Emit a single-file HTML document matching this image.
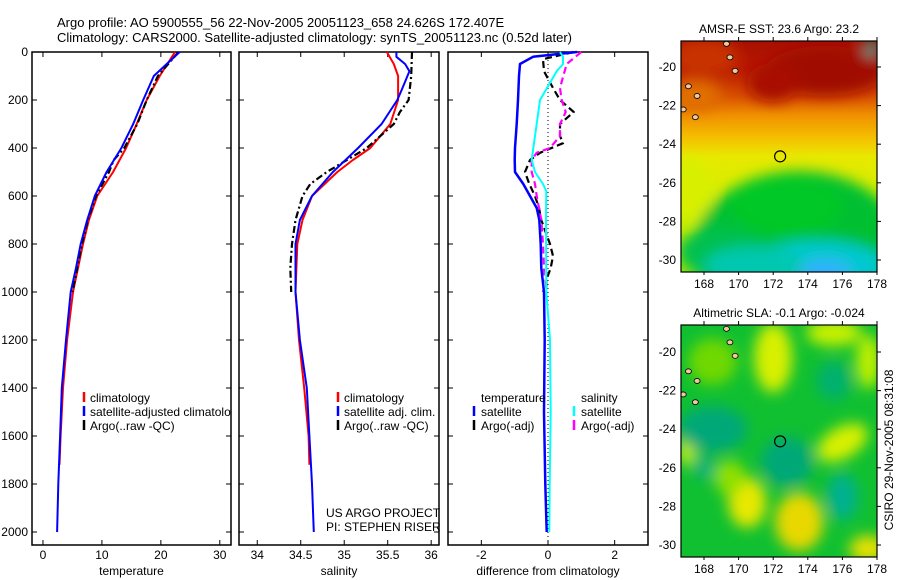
<!DOCTYPE html>
<html><head><meta charset="utf-8"><style>
html,body{margin:0;padding:0;background:#fff;}
svg{display:block;font-family:"Liberation Sans",sans-serif;}
</style></head><body>
<svg id="chart" width="900" height="580" viewBox="0 0 900 580">
<defs>
<filter id="blur" x="-20%" y="-20%" width="140%" height="140%"><feGaussianBlur stdDeviation="7"/></filter>
<clipPath id="m1clip"><rect x="681" y="41" width="196" height="231"/></clipPath>
<clipPath id="m2clip"><rect x="681" y="325" width="196" height="232"/></clipPath>
<clipPath id="p1clip"><rect x="32" y="52" width="199" height="493"/></clipPath>
<linearGradient id="sstg" x1="0" y1="0" x2="0" y2="1">
<stop offset="0" stop-color="#a81000"/><stop offset="0.12" stop-color="#b81800"/>
<stop offset="0.24" stop-color="#d85000"/><stop offset="0.32" stop-color="#f09000"/>
<stop offset="0.42" stop-color="#f5c000"/><stop offset="0.5" stop-color="#e8e800"/>
<stop offset="0.7" stop-color="#d0f000"/><stop offset="1" stop-color="#a0e800"/>
</linearGradient>
</defs>
<text x="57" y="27" font-size="13">Argo profile: AO 5900555_56 22-Nov-2005 20051123_658 24.626S 172.407E</text>
<text x="57" y="42" font-size="13">Climatology: CARS2000. Satellite-adjusted climatology: synTS_20051123.nc (0.52d later)</text>
<g id="plots"></g>
<g id="maps"></g>
<text transform="translate(893,450) rotate(-90)" font-size="12" text-anchor="middle">CSIRO 29-Nov-2005 08:31:08</text>
</svg>
<script>
// ---- data ----
const tempDepthClim = [0,100,200,300,400,500,600,700,800,1000,1200,1400,1600,1720];
const tempClim = [22.4,19.8,17.6,15.9,14.1,11.9,9.2,7.8,6.8,5.1,4.1,3.4,3.0,2.8];
const tempDepthSat = [0,50,100,200,300,400,500,600,700,800,900,1000,1200,1400,1600,1800,2000];
const tempSat = [23.2,21.0,18.8,17.0,15.3,13.3,10.8,8.8,7.5,6.4,5.6,4.7,3.9,3.2,2.9,2.6,2.4];
const tempDepthArgo = [0,100,200,300,400,450,500,600,700,800,1000];
const tempArgo = [23.0,19.5,17.6,16.0,13.8,12.0,11.2,9.0,7.6,6.6,5.0];

const salDepthClim = [0,50,100,200,300,400,450,500,600,700,800,1000,1200,1400,1600,1720];
const salClim = [35.49,35.57,35.62,35.62,35.53,35.30,35.10,34.92,34.63,34.52,34.46,34.44,34.48,34.54,34.59,34.60];
const salDepthSat = [0,20,50,80,150,200,300,400,500,600,700,800,1000,1200,1400,1600,1800,2000];
const salSat = [35.60,35.60,35.70,35.75,35.67,35.61,35.43,35.16,34.87,34.63,34.49,34.44,34.44,34.49,34.57,34.60,34.63,34.65];
const salDepthArgo = [0,100,200,250,300,400,450,500,550,600,700,800,900,1000];
const salArgo = [35.78,35.77,35.74,35.64,35.57,35.26,35.03,34.80,34.61,34.52,34.44,34.40,34.38,34.39];

const dDepthT = [0,20,50,100,200,300,400,450,500,550,600,650,700,800,900,1000,1200,1500,1800,2000];
const dTempSat = [0.87,-0.45,-0.84,-0.87,-0.9,-0.94,-0.99,-1.0,-0.99,-0.74,-0.54,-0.34,-0.26,-0.22,-0.2,-0.12,-0.1,-0.12,-0.08,-0.04];
const dDepthS = [0,20,50,80,150,200,300,400,450,500,550,580,700,1000,1200,1500,1800,2000];
const dSalSat = [0.36,0.45,0.45,0.26,-0.03,-0.24,-0.34,-0.44,-0.49,-0.39,-0.15,-0.05,-0.06,-0.05,0.06,0.08,0.05,0.04];
const dDepthTA = [0,30,80,150,200,250,300,350,380,420,450,500,550,600,650,700,800,850,900,950,1000];
const dTempArgo = [0.76,-0.15,-0.12,0.15,0.36,0.77,0.36,0.36,0.45,-0.24,-0.54,-0.69,-0.56,-0.39,-0.27,-0.2,0.06,0.15,0.08,-0.05,-0.05];
const dDepthSA = [0,50,100,150,200,250,300,350,400,420,450,500,550,600,650,700,800,900,1000];
const dSalArgo = [1.0,0.56,0.46,0.36,0.41,0.53,0.36,0.36,0.06,-0.34,-0.49,-0.49,-0.39,-0.34,-0.27,-0.2,-0.15,-0.12,-0.15];

const depthTicks = [0,200,400,600,800,1000,1200,1400,1600,1800,2000];
const tempTicks = [0,10,20,30];
const salTicks = [34,34.5,35,35.5,36];
const diffTicks = [-2,0,2];
const latTicks = [20,22,24,26,28,30];
const lonTicks = [168,170,172,174,176,178];

// ---- axes ----
const NS='http://www.w3.org/2000/svg';
const TOP=52, BOT=545;
function yDepth(d){return TOP + d*0.24;}
function mkX(x0,x1,v0,v1){return v=>x0+(v-v0)/(v1-v0)*(x1-x0);}
const panels=[
 {name:'temperature',x0:32,x1:231,v0:-1.86,v1:31.9,ticks:tempTicks,label:'temperature'},
 {name:'salinity',x0:239,x1:439,v0:33.79,v1:36.09,ticks:salTicks,label:'salinity'},
 {name:'difference',x0:448,x1:648,v0:-3.0,v1:3.0,ticks:diffTicks,label:'difference from climatology'}
];
const g=document.getElementById('plots');
function el(tag,attrs,parent){const e=document.createElementNS(NS,tag);for(const k in attrs)e.setAttribute(k,attrs[k]);(parent||g).appendChild(e);return e;}

panels.forEach((p,pi)=>{
  p.sx=mkX(p.x0,p.x1,p.v0,p.v1);
  const grp=el('g',{});
  
  
  const r=el('rect',{x:p.x0,y:TOP,width:p.x1-p.x0,height:BOT-TOP,fill:'none',stroke:'#000','stroke-width':1.5},grp);
  
  
  depthTicks.forEach(d=>{
    const y=yDepth(d);
    el('line',{x1:p.x0,x2:p.x0+5,y1:y,y2:y,stroke:'#000'},grp);
    el('line',{x1:p.x1,x2:p.x1-5,y1:y,y2:y,stroke:'#000'},grp);
    if(pi===0){
      const t=el('text',{x:28,y:y+4,'font-size':12,'text-anchor':'end'},grp);
      t.textContent=d;
      
      
    }
  });
  p.ticks.forEach(v=>{
    const x=p.sx(v);
    el('line',{x1:x,x2:x,y1:TOP,y2:TOP+5,stroke:'#000'},grp);
    el('line',{x1:x,x2:x,y1:BOT,y2:BOT-5,stroke:'#000'},grp);
    const t=el('text',{x:x,y:559,'font-size':12,'text-anchor':'middle'},grp);
    t.textContent=v;
    
    
  });
  const lab=el('text',{x:(p.x0+p.x1)/2,y:575,'font-size':12,'text-anchor':'middle'},grp);
  lab.textContent=p.label;
  
  
});

function series(p,depths,vals,color,dash,name,w){
  const pts=depths.map((d,i)=>p.sx(vals[i]).toFixed(1)+','+yDepth(d).toFixed(1)).join(' ');
  const pl=el('polyline',{points:pts,fill:'none',stroke:color,'stroke-width':w||2,'stroke-dasharray':dash||'none','stroke-linejoin':'round'});
  
  
}
const P=panels;
const zl=el('line',{x1:P[2].sx(0),x2:P[2].sx(0),y1:TOP,y2:BOT,stroke:'#000','stroke-width':1,'stroke-dasharray':'1,3'});



series(P[0],tempDepthClim,tempClim,'#ff0000',null,'temp-climatology-line');
series(P[0],tempDepthArgo,tempArgo,'#000','7,3,2,3','temp-argo-line',2.2);
series(P[0],tempDepthSat,tempSat,'#0000ff',null,'temp-satellite-line');
series(P[1],salDepthClim,salClim,'#ff0000',null,'sal-climatology-line');
series(P[1],salDepthArgo,salArgo,'#000','7,3,2,3','sal-argo-line',2.2);
series(P[1],salDepthSat,salSat,'#0000ff',null,'sal-satellite-line');
series(P[2],dDepthTA,dTempArgo,'#000','7,4','diff-temp-argo-line',2.2);
series(P[2],dDepthSA,dSalArgo,'#ff00ff','7,4','diff-sal-argo-line',2.2);
series(P[2],dDepthT,dTempSat,'#0000ff',null,'diff-temp-satellite-line',2.5);
series(P[2],dDepthS,dSalSat,'#00ffff',null,'diff-sal-satellite-line',2);

function legendRow(bx,tx,y,color,text,name,clip){
  if(color){const b=el('line',{x1:bx,x2:bx,y1:y-10,y2:y,stroke:color,'stroke-width':2.5});
    
    }
  const t=el('text',{x:tx,y:y,'font-size':12});
  if(clip) t.setAttribute('clip-path','url(#'+clip+')');
  t.textContent=text;
  
  
}
legendRow(84,90,402,'#ff0000','climatology','legend-entry-temp-climatology');
legendRow(84,90,416,'#0000ff','satellite-adjusted climatology','legend-entry-temp-satellite','p1clip');
legendRow(84,90,430,'#000','Argo(..raw -QC)','legend-entry-temp-argo');
legendRow(338,344,402,'#ff0000','climatology','legend-entry-sal-climatology');
legendRow(338,344,416,'#0000ff','satellite adj. clim.','legend-entry-sal-satellite');
legendRow(338,344,430,'#000','Argo(..raw -QC)','legend-entry-sal-argo');
legendRow(0,481,402,null,'temperature','legend-title-temperature');
legendRow(474,481,416,'#0000ff','satellite','legend-entry-diff-temp-satellite');
legendRow(474,481,430,'#000','Argo(-adj)','legend-entry-diff-temp-argo');
legendRow(0,581,402,null,'salinity','legend-title-salinity');
legendRow(574,581,416,'#00ffff','satellite','legend-entry-diff-sal-satellite');
legendRow(574,581,430,'#ff00ff','Argo(-adj)','legend-entry-diff-sal-argo');
legendRow(0,326,517,null,'US ARGO PROJECT','project-credit');
legendRow(0,326,531,null,'PI: STEPHEN RISER','pi-credit');

// ---- maps ----
const mg=document.getElementById('maps');
function lonX(l){return 704+(l-168)*17.3;}
function latY(top,l){return top+(l-20)*19.3;}
function drawMap(top,boxTop,boxH,clip,title,name,blobs,base){
  const grp=el('g',{},mg);
  
  
  const tt=el('text',{x:779,y:boxTop-8,'font-size':12,'text-anchor':'middle'},grp);
  tt.textContent=title;
  
  
  const inner=el('g',{'clip-path':'url(#'+clip+')'},grp);
  el('rect',{x:681,y:boxTop,width:196,height:boxH,fill:base},inner);
  const bg=el('g',{filter:'url(#blur)'},inner);
  blobs.forEach(b=>{el('ellipse',{cx:lonX(b[0]),cy:latY(top,b[1]),rx:b[2]*17.3,ry:b[3]*19.3,fill:b[4],transform:b[5]?`rotate(${b[5]} ${lonX(b[0])} ${latY(top,b[1])})`:''},bg);});
  [[169.3,18.8],[169.5,19.5],[169.8,20.2],[167.1,21.0],[167.6,21.5],[166.8,22.2],[167.5,22.6]].forEach(i=>{
    el('ellipse',{cx:lonX(i[0]),cy:latY(top,i[1]),rx:3,ry:2.5,fill:'#f0c8a0',stroke:'#000','stroke-width':0.8},inner);
  });
  const c=el('circle',{cx:lonX(172.4),cy:latY(top,24.63),r:5.5,fill:'none',stroke:'#000','stroke-width':1.2},inner);
  
  
  el('rect',{x:681,y:boxTop,width:196,height:boxH,fill:'none',stroke:'#000','stroke-width':1.2},grp);
  latTicks.forEach(l=>{const y=latY(top,l);
    el('line',{x1:877,x2:881,y1:y,y2:y,stroke:'#000'},grp);
    const t=el('text',{x:676,y:y+4,'font-size':12,'text-anchor':'end'},grp);t.textContent='-'+l;
    
    });
  lonTicks.forEach(l=>{const x=lonX(l);
    el('line',{x1:x,x2:x,y1:boxTop,y2:boxTop-4,stroke:'#000'},grp);
    el('line',{x1:x,x2:x,y1:boxTop+boxH,y2:boxTop+boxH+3,stroke:'#000'},grp);
    const t=el('text',{x:x,y:boxTop+boxH+16,'font-size':12,'text-anchor':'middle'},grp);t.textContent=l;
    
    });
}
drawMap(67,41,231,'m1clip','AMSR-E SST: 23.6 Argo: 23.2','sst-map',[
  [175,20.2,3.5,1.3,'#a00800'],[172,20.8,1.5,1,'#a81000'],[168,19.5,2,1,'#c83000'],
  [167.5,21.5,1.5,0.8,'#e07000'],
  [173.5,29.6,6.2,4.2,'#00c030'],[172.8,27.2,3.2,1.5,'#00c828'],[169,29.6,2.5,1.3,'#00c050'],
  [167.2,26.3,1.2,1.6,'#d8f000'],
  [174.5,30.3,4,1.3,'#00c8d0'],[171,30.3,3,1,'#00c8b0'],[175,30.6,1.5,0.6,'#30b0ff'],
  [177.7,19.0,0.4,0.4,'#00b0a0']
],'url(#sstg)');
drawMap(352,325,232,'m2clip','Altimetric SLA: -0.1 Argo: -0.024','sla-map',[
  [172,20.3,1.1,1.8,'#d8f000'],[175.5,19,1.6,0.7,'#c8f000'],[177.5,20.5,0.7,1.4,'#c0f000'],
  [168.5,20.5,1.4,1.2,'#70d800'],[176,24.7,1.6,0.8,'#d8f000',-30],[170.5,27.8,1.1,1.3,'#e8e800'],
  [173.5,28.8,1.4,1.5,'#e8d800'],[177.5,30.2,1.1,0.7,'#e8e000'],[167,25,0.5,0.9,'#c8f000'],
  [169.5,26.5,0.9,0.9,'#90e000'],
  [168.5,24,2,1.2,'#00a878'],[172.8,25.7,1.5,1.3,'#00a878'],[176,27.5,0.9,1.2,'#00b090'],
  [175.5,21.5,1,1,'#00b070'],[168,26,0.6,0.6,'#00b080']
],'#10c030');
</script>
</body></html>
